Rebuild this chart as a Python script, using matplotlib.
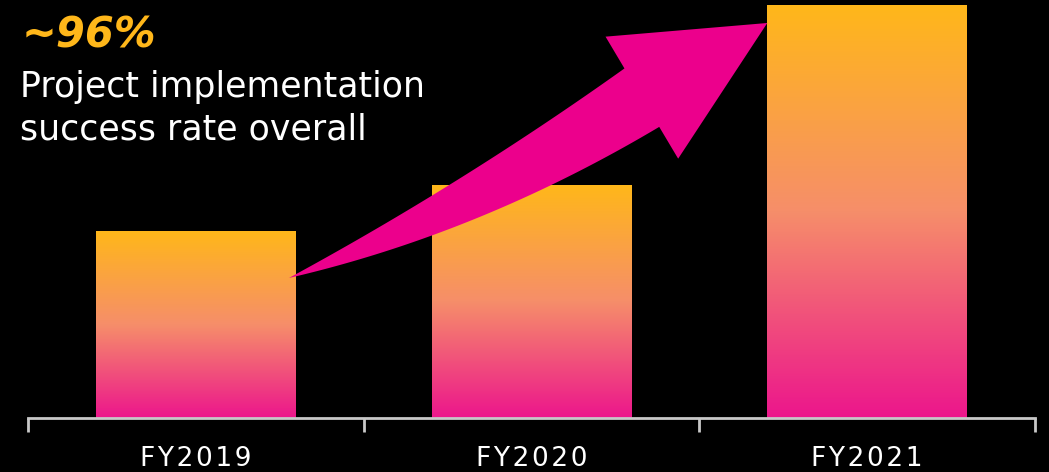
import numpy as np
import matplotlib
matplotlib.use("Agg")
from matplotlib import pyplot as plt
from matplotlib.colors import LinearSegmentedColormap
from matplotlib.patches import Polygon

years = ["FY2019", "FY2020", "FY2021"]
rates = [44.7, 55.7, 98.6]
headline = "~96%"
caption = ["Project implementation", "success rate overall"]

BAR_W = 0.595
ORANGE = "#FFB71A"
PINK = "#EC008C"
AXIS_GREY = "#C8C8C8"

bar_cmap = LinearSegmentedColormap.from_list(
    "bar", [(0.0, "#EC168C"), (0.5, "#F68E6A"), (1.0, ORANGE)])


def unit(a):
    return np.array([np.cos(a), np.sin(a)])


def bezier_edge(p0, p1, d0, d1, n=80):
    # quadratic curve from p0 (leaving along d0) to p1 (arriving along d1)
    u, s = np.linalg.solve(np.column_stack([d0, d1]), p1 - p0)
    ctrl = p0 + u * d0
    t = np.linspace(0, 1, n)[:, None]
    return (1 - t) ** 2 * p0 + 2 * (1 - t) * t * ctrl + t ** 2 * p1


def arrow_polygon(ax, start, end, head_len=146, head_w=142, body_w=68,
                  bend_head=2.7, upper_bow=3.5, lower_tail=-15.0):
    # curved arrow with a pointed tail, built in pixels then mapped to data
    p0 = ax.transData.transform(start)
    p1 = ax.transData.transform(end)
    chord = p1 - p0
    ang = np.arctan2(chord[1], chord[0])

    d_head = unit(ang + np.radians(bend_head))
    base = p1 - head_len * d_head
    n_head = np.array([-d_head[1], d_head[0]])
    up = base + n_head * body_w / 2
    low = base - n_head * body_w / 2

    a_up = np.arctan2(*(up - p0)[::-1])
    upper = bezier_edge(p0, up, unit(a_up - np.radians(upper_bow)),
                        unit(a_up + np.radians(upper_bow)))
    lower = bezier_edge(p0, low, unit(ang + np.radians(lower_tail)), d_head)

    head = np.array([base + n_head * head_w / 2, p1, base - n_head * head_w / 2])
    poly = np.vstack([upper, head, lower[::-1]])
    return ax.transData.inverted().transform(poly)


def main():
    fig = plt.figure(figsize=(10.49, 4.72), dpi=100, facecolor="black")
    ax = fig.add_axes([28 / 1049, 54 / 472, 1007 / 1049, 418 / 472])
    ax.set_facecolor("black")

    x = np.arange(len(years))
    bars = ax.bar(x, rates, width=BAR_W, color="none", zorder=1)
    gradient = np.linspace(0, 1, 256).reshape(-1, 1)
    for b in bars:
        x0 = b.get_x()
        ax.imshow(gradient, cmap=bar_cmap, origin="lower", aspect="auto",
                  extent=(x0, x0 + b.get_width(), 0, b.get_height()), zorder=2)

    ax.set_xlim(-0.5, len(years) - 0.5)
    ax.set_ylim(0, 100)

    for side in ["top", "left", "right"]:
        ax.spines[side].set_visible(False)
    ax.spines["bottom"].set_color(AXIS_GREY)
    ax.spines["bottom"].set_linewidth(2)
    ax.set_yticks([])
    ax.set_xticks(np.arange(len(years) + 1) - 0.5)
    ax.set_xticklabels([])
    ax.tick_params(axis="x", which="major", length=10, width=2,
                   color=AXIS_GREY, direction="out")
    ax.set_xticks(x, minor=True)
    ax.set_xticklabels(["\u200a".join(y) for y in years], minor=True,
                       fontsize=19, color="white", family="DejaVu Sans")
    ax.tick_params(axis="x", which="minor", length=0, pad=20)

    start = (x[0] + BAR_W / 2 - 0.02, 33.5)
    end = (x[2] - BAR_W / 2, 94.5)
    ax.add_patch(Polygon(arrow_polygon(ax, start, end), closed=True,
                         facecolor=PINK, edgecolor="none", zorder=3))

    fig.text(22 / 1049, 1 - 47 / 472, headline, color=ORANGE, fontsize=30,
             fontweight="bold", fontstyle="italic", family="DejaVu Sans",
             va="baseline")
    for i, line in enumerate(caption):
        fig.text(20 / 1049, 1 - (97 + 43 * i) / 472, line, color="white",
                 fontsize=25, family="DejaVu Sans", va="baseline")

    fig.savefig("out.png", dpi=100, facecolor="black")


if __name__ == "__main__":
    main()
